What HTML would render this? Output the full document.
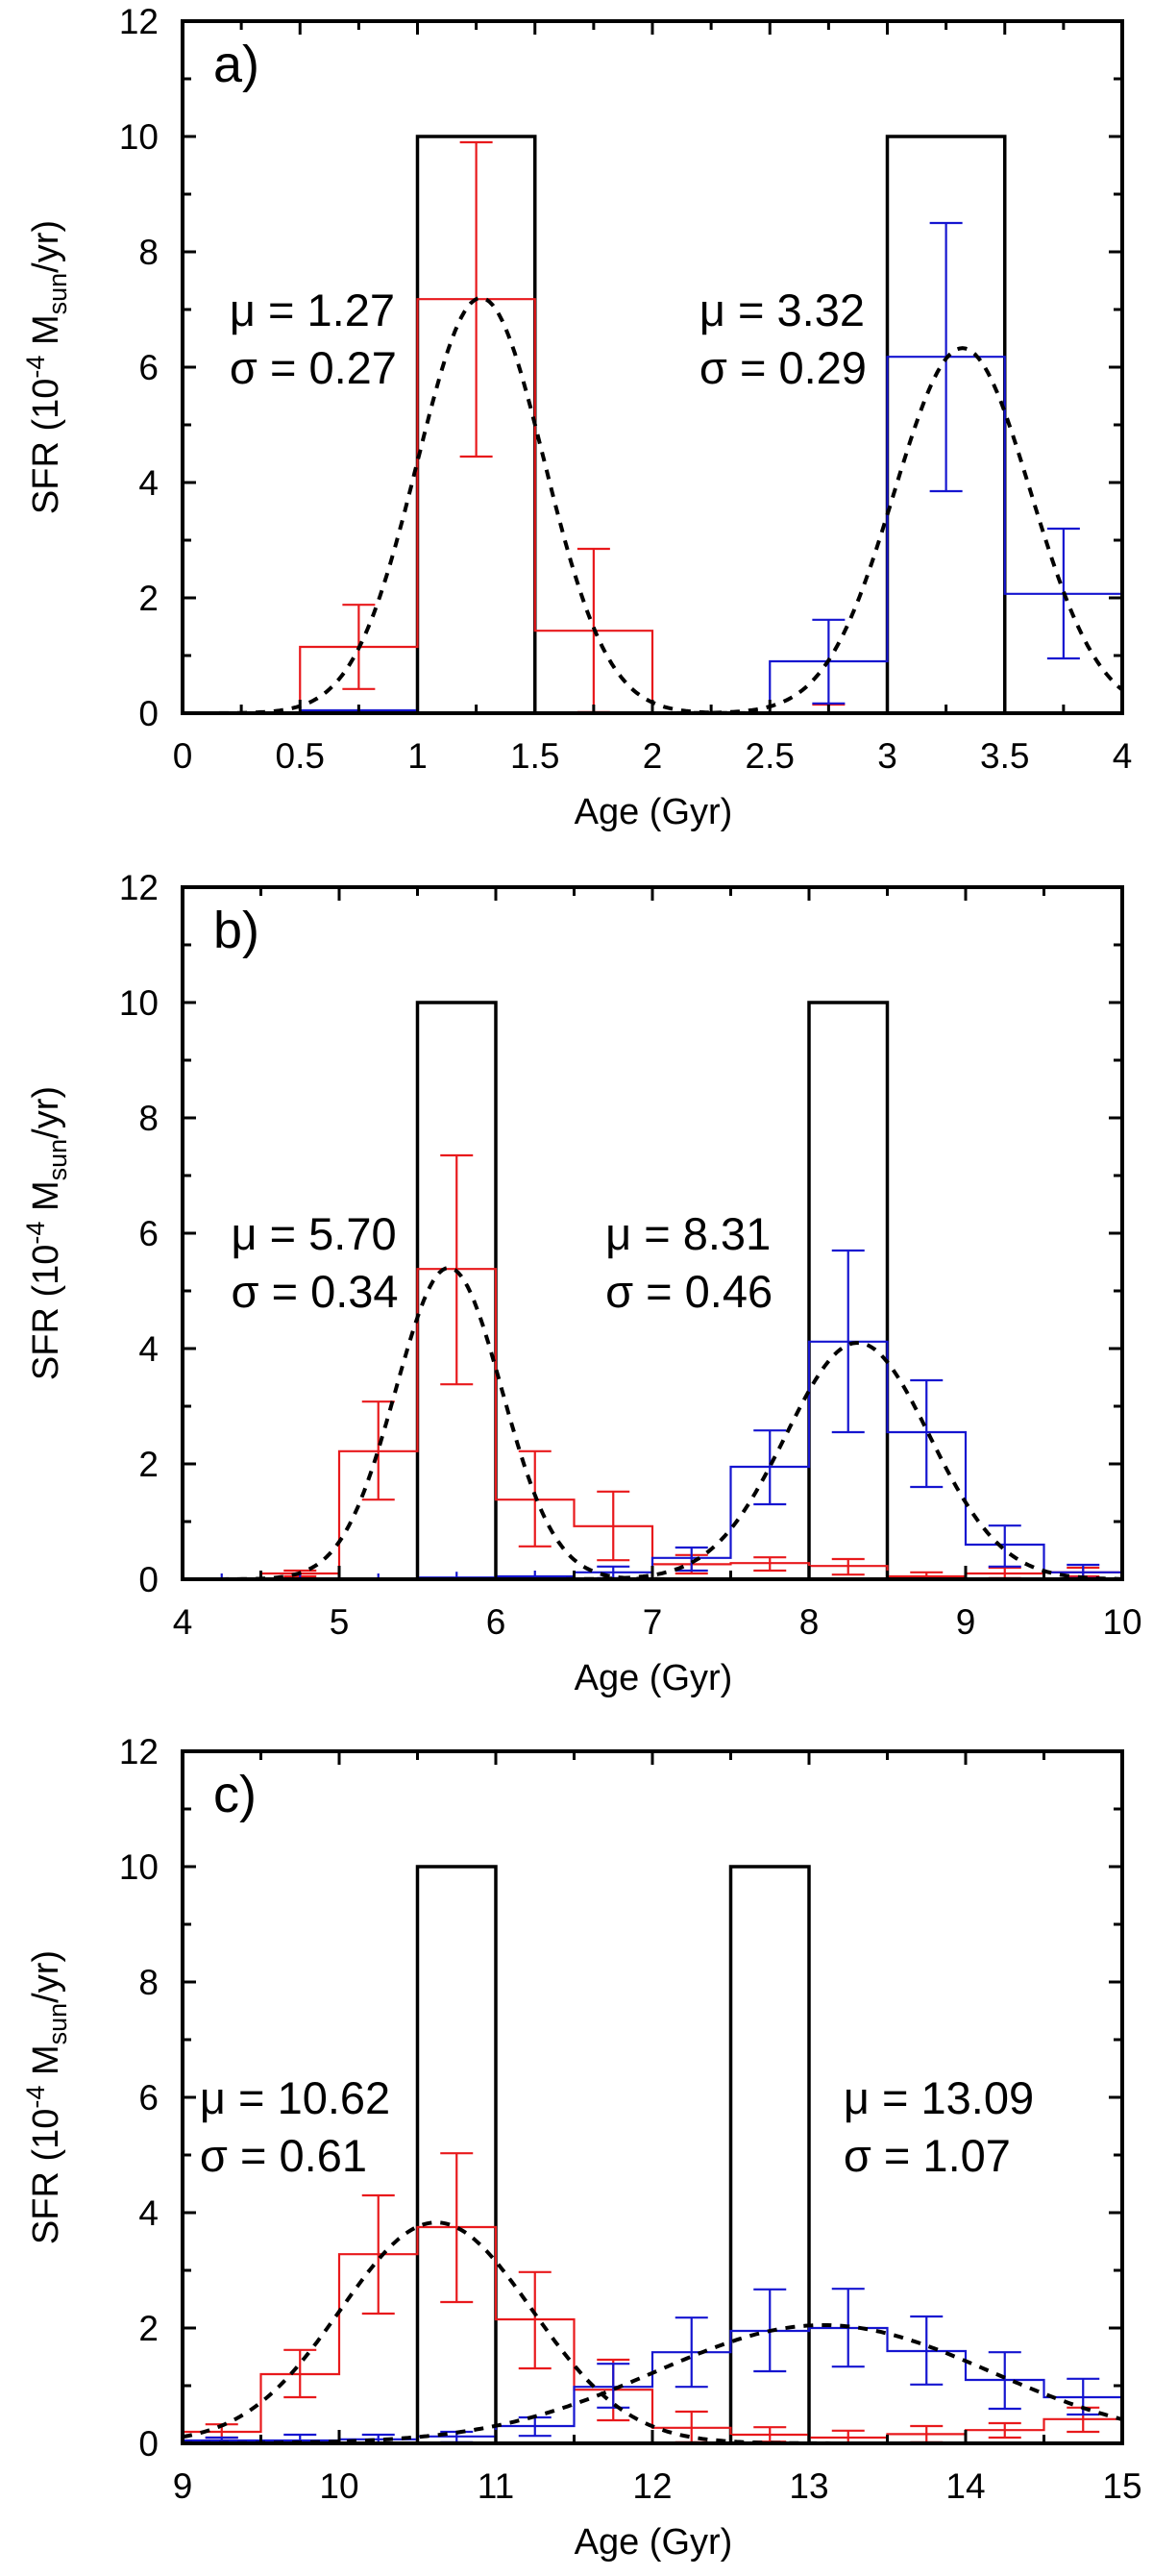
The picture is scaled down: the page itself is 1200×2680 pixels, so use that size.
<!DOCTYPE html>
<html><head><meta charset="utf-8"><style>
html,body{margin:0;padding:0;background:#fff;}
svg{display:block;font-family:"Liberation Sans",Arial,sans-serif;}
</style></head><body>
<svg id="chart" width="1200" height="2680" viewBox="0 0 1200 2680" xmlns="http://www.w3.org/2000/svg"></svg>
<script>
// ---- Panel a data ----
const aRed = [0, 1.15, 7.18, 1.43, 0, 0, 0, 0];
const aRedLo = [0, 0.42, 4.45, 0.02, 0, 0, -0.15, -0.15];
const aRedHi = [0, 1.88, 9.9, 2.85, 0, 0.15, 0.15, 0.15];
const aBlue = [0, 0.05, 0, 0, 0, 0.9, 6.18, 2.07];
const aBlueLo = [0, -0.05, -0.15, -0.15, -0.15, 0.17, 3.85, 0.95];
const aBlueHi = [0, 0.15, 0.15, 0.15, 0.15, 1.62, 8.5, 3.2];
const aBoxes = [[1, 1.5], [3, 3.5]];
const aMu = [1.27, 3.32];
const aSigma = [0.27, 0.29];
const aAmp = [7.2, 6.33];
const aXTicks = ["0","0.5","1","1.5","2","2.5","3","3.5","4"];
// ---- Panel b data ----
const bRed = [0, 0.1, 2.22, 5.38, 1.38, 0.92, 0.26, 0.28, 0.23, 0.05, 0.1, 0.12];
const bRedLo = [0, 0.05, 1.38, 3.38, 0.57, 0.33, 0.1, 0.15, 0.08, 0, 0.02, 0.05];
const bRedHi = [0, 0.15, 3.08, 7.35, 2.22, 1.52, 0.42, 0.38, 0.35, 0.12, 0.2, 0.2];
const bBlue = [0, 0, 0, 0.03, 0.05, 0.12, 0.37, 1.95, 4.12, 2.55, 0.6, 0.12];
const bBlueLo = [-0.1, -0.1, -0.1, -0.07, -0.05, 0.02, 0.15, 1.3, 2.55, 1.6, 0.22, 0.02];
const bBlueHi = [0.1, 0.1, 0.1, 0.13, 0.15, 0.22, 0.55, 2.58, 5.7, 3.45, 0.93, 0.25];
const bBoxes = [[5.5, 6], [8, 8.5]];
const bMu = [5.70, 8.31];
const bSigma = [0.34, 0.46];
const bAmp = [5.4, 4.1];
const bXTicks = ["4","5","6","7","8","9","10"];
// ---- Panel c data ----
const cRed = [0.2, 1.2, 3.28, 3.75, 2.15, 0.93, 0.27, 0.15, 0.1, 0.16, 0.23, 0.42];
const cRedLo = [0.1, 0.8, 2.25, 2.45, 1.3, 0.4, 0.02, 0.03, 0, 0.02, 0.1, 0.2];
const cRedHi = [0.33, 1.62, 4.3, 5.03, 2.97, 1.45, 0.55, 0.28, 0.22, 0.3, 0.35, 0.62];
const cBlue = [0.05, 0.05, 0.07, 0.12, 0.3, 0.98, 1.58, 1.95, 2.0, 1.6, 1.1, 0.8];
const cBlueLo = [0, 0, 0, 0.02, 0.13, 0.62, 0.98, 1.25, 1.33, 1.02, 0.6, 0.5];
const cBlueHi = [0.1, 0.15, 0.15, 0.2, 0.45, 1.38, 2.18, 2.67, 2.68, 2.2, 1.58, 1.12];
const cBoxes = [[10.5, 11], [12.5, 13]];
const cMu = [10.62, 13.09];
const cSigma = [0.61, 1.07];
const cAmp = [3.83, 2.05];
const cXTicks = ["9","10","11","12","13","14","15"];
const yTicks = ["0","2","4","6","8","10","12"];

const NS = "http://www.w3.org/2000/svg";
const svg = document.getElementById("chart");
function mk(tag, attrs, parent) {
  const e = document.createElementNS(NS, tag);
  for (const k in attrs) e.setAttribute(k, attrs[k]);
  (parent || svg).appendChild(e);
  return e;
}
const L = 190, R = 1168;

function panel(cfg) {
  const g = mk("g", {});
  
  
  const top = cfg.top, bot = cfg.top + 720;
  const sx = v => L + (v - cfg.x0) / (cfg.x1 - cfg.x0) * (R - L);
  const sy = v => bot - v / 12 * 720;
  const cp = mk("clipPath", {id: "clip" + cfg.id}, g);
  mk("rect", {x: L, y: top, width: R - L, height: 720}, cp);
  const inner = mk("g", {"clip-path": "url(#clip" + cfg.id + ")"}, g);
  cfg.boxes.forEach((b, i) => {
    const r = mk("rect", {x: sx(b[0]), y: sy(10), width: sx(b[1]) - sx(b[0]), height: sy(0) - sy(10), fill: "none", stroke: "#000", "stroke-width": 3.5}, inner);
    
    
  });
  function hist(vals, lo, hi, color, name) {
    let d = "";
    vals.forEach((v, i) => {
      const xa = sx(cfg.x0 + i * 0.5), xb = sx(cfg.x0 + (i + 1) * 0.5);
      d += (i === 0 ? "M" : "L") + xa + "," + sy(v) + "L" + xb + "," + sy(v);
    });
    const p = mk("path", {d: d, fill: "none", stroke: color, "stroke-width": 2.2}, inner);
    
    
    vals.forEach((v, i) => {
      const x = sx(cfg.x0 + i * 0.5 + 0.25);
      const eg = mk("g", {stroke: color, "stroke-width": 2.2}, inner);
      
      
      mk("line", {x1: x, x2: x, y1: sy(lo[i]), y2: sy(hi[i])}, eg);
      if (hi[i] - lo[i] > 0.05 && lo[i] >= 0) {
        mk("line", {x1: x - 17, x2: x + 17, y1: sy(lo[i]), y2: sy(lo[i])}, eg);
        mk("line", {x1: x - 17, x2: x + 17, y1: sy(hi[i]), y2: sy(hi[i])}, eg);
      }
    });
  }
  hist(cfg.red, cfg.redLo, cfg.redHi, "#e8191c", "red");
  hist(cfg.blue, cfg.blueLo, cfg.blueHi, "#1515d0", "blue");
  const N = 300;
  for (let j = 0; j < cfg.mu.length; j++) {
    let d = "";
    for (let k = 0; k <= N; k++) {
      const x = cfg.x0 + (cfg.x1 - cfg.x0) * k / N;
      const y = cfg.amp[j] * Math.exp(-0.5 * Math.pow((x - cfg.mu[j]) / cfg.sigma[j], 2));
      d += (k ? "L" : "M") + sx(x).toFixed(1) + "," + sy(y).toFixed(1);
    }
    const gc = mk("path", {d: d, fill: "none", stroke: "#000", "stroke-width": 4, "stroke-dasharray": "10,9"}, inner);
    
    
  }
  const fr = mk("rect", {x: L, y: top, width: R - L, height: 720, fill: "none", stroke: "#000", "stroke-width": 4}, g);
  
  
  for (let v = 0; v <= 12; v++) {
    const y = sy(v), len = v % 2 ? 9 : 14;
    mk("line", {x1: L, x2: L + len, y1: y, y2: y, stroke: "#000", "stroke-width": 3}, g);
    mk("line", {x1: R, x2: R - len, y1: y, y2: y, stroke: "#000", "stroke-width": 3}, g);
  }
  yTicks.forEach(t => {
    const tx = mk("text", {x: 165, y: sy(+t) + 13, "text-anchor": "end", "font-size": 37}, g);
    tx.textContent = t;
    
    
  });
  const nMinor = Math.round((cfg.x1 - cfg.x0) / cfg.minor);
  for (let k = 0; k <= nMinor; k++) {
    const x = sx(cfg.x0 + k * cfg.minor), len = k % 2 ? 9 : 14;
    mk("line", {x1: x, x2: x, y1: bot, y2: bot - len, stroke: "#000", "stroke-width": 3}, g);
    mk("line", {x1: x, x2: x, y1: top, y2: top + len, stroke: "#000", "stroke-width": 3}, g);
  }
  cfg.xTicks.forEach(t => {
    const tx = mk("text", {x: sx(+t), y: bot + 57, "text-anchor": "middle", "font-size": 37}, g);
    tx.textContent = t;
    
    
  });
  const pl = mk("text", {x: 222, y: top + 63, "font-size": 54}, g);
  pl.textContent = cfg.id + ")";
  
  
  cfg.mu.forEach((m, j) => {
    const t1 = mk("text", {x: sx(cfg.textX[j]), y: sy(cfg.textY) + 17, "font-size": 47}, g);
    t1.textContent = "\u03bc = " + m.toFixed(2);
    
    
    const t2 = mk("text", {x: sx(cfg.textX[j]), y: sy(cfg.textY - 1) + 17, "font-size": 47}, g);
    t2.textContent = "\u03c3 = " + cfg.sigma[j].toFixed(2);
    
    
  });
  const xt = mk("text", {x: 680, y: bot + 115, "text-anchor": "middle", "font-size": 38}, g);
  xt.textContent = "Age (Gyr)";
  
  
  const yt = mk("text", {x: 0, y: 0, "text-anchor": "middle", "font-size": 38, transform: "translate(60," + (top + 360) + ") rotate(-90)"}, g);
  yt.innerHTML = 'SFR (10<tspan dy="-14" font-size="27">-4</tspan><tspan dy="14"> M</tspan><tspan dy="9" font-size="27">sun</tspan><tspan dy="-9">/yr)</tspan>';
  
  
}

panel({id: "a", top: 22, x0: 0, x1: 4, minor: 0.25, red: aRed, redLo: aRedLo, redHi: aRedHi, blue: aBlue, blueLo: aBlueLo, blueHi: aBlueHi, boxes: aBoxes, mu: aMu, sigma: aSigma, amp: aAmp, xTicks: aXTicks, textX: [0.2, 2.2], textY: 7});
panel({id: "b", top: 923, x0: 4, x1: 10, minor: 0.5, red: bRed, redLo: bRedLo, redHi: bRedHi, blue: bBlue, blueLo: bBlueLo, blueHi: bBlueHi, boxes: bBoxes, mu: bMu, sigma: bSigma, amp: bAmp, xTicks: bXTicks, textX: [4.31, 6.7], textY: 6});
panel({id: "c", top: 1822, x0: 9, x1: 15, minor: 0.5, red: cRed, redLo: cRedLo, redHi: cRedHi, blue: cBlue, blueLo: cBlueLo, blueHi: cBlueHi, boxes: cBoxes, mu: cMu, sigma: cSigma, amp: cAmp, xTicks: cXTicks, textX: [9.11, 13.22], textY: 6});
</script>
</body></html>
